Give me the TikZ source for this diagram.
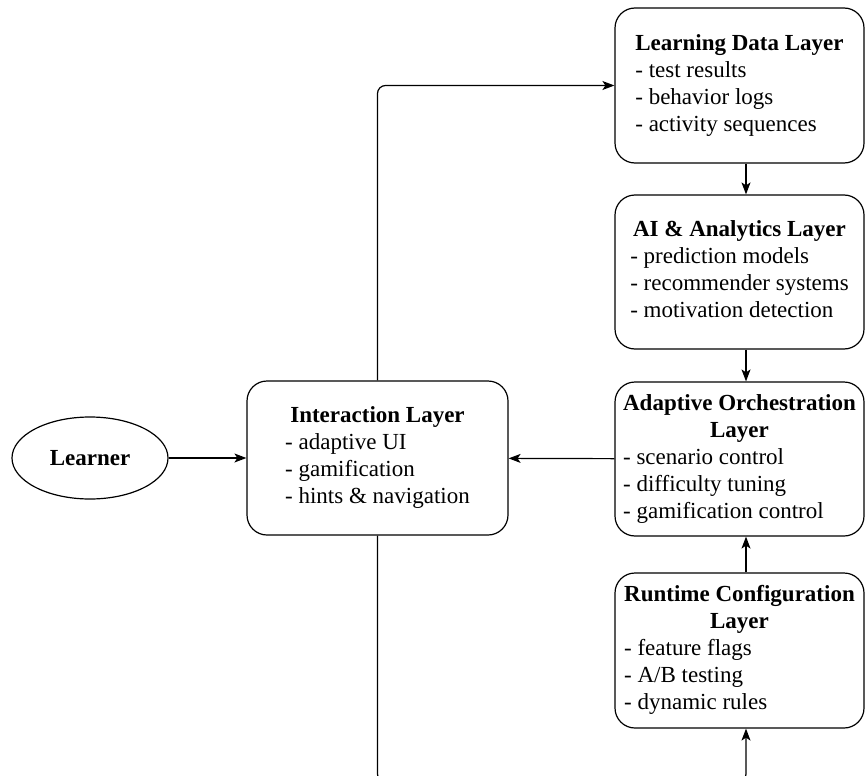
\documentclass[tikz,border=0pt]{standalone}
\usepackage{fontspec}
\setmainfont{Liberation Serif}
\usetikzlibrary{arrows.meta,shapes.geometric}

\tikzset{
  layer/.style={draw, line width=1.2pt, rounded corners=20pt, inner sep=0pt,
    minimum width=249pt, minimum height=155pt, font=\fontsize{23}{27}\selectfont},
  actor/.style={draw, line width=1.2pt, ellipse, inner sep=0pt,
    minimum width=156pt, minimum height=82pt, font=\fontsize{23}{27}\selectfont\bfseries},
  link/.style={line width=1.2pt, -{Stealth[length=12pt,width=9pt,inset=3pt]}},
}
% title centred over a left-aligned list
\newcommand{\layertext}[2]{\begin{tabular}{@{}l@{}}#1#2\end{tabular}}
\newcommand{\ttl}[1]{\multicolumn{1}{@{}c@{}}{\textbf{#1}}\\}

\begin{document}
\begin{tikzpicture}[x=1pt,y=-1pt]
  \useasboundingbox (0,0) rectangle (865,776);
  \clip (0,0) rectangle (865,776);

  \node[layer] (data) at (739.5,85.5)
    {\layertext{\ttl{Learning Data Layer}}{- test results\\- behavior logs\\- activity sequences}};
  \node[layer, minimum height=154pt] (ai) at (739.5,272)
    {\layertext{\ttl{AI \& Analytics Layer}}{- prediction models\\- recommender systems\\- motivation detection}};
  \node[layer, minimum height=154pt] (orch) at (739.5,459)
    {\layertext{\ttl{Adaptive Orchestration}\ttl{Layer}}{- scenario control\\- difficulty tuning\\- gamification control}};
  \node[layer] (rt) at (739.5,650.5)
    {\layertext{\ttl{Runtime Configuration}\ttl{Layer}}{- feature flags\\- A/B testing\\- dynamic rules}};
  \node[layer, minimum width=261pt, minimum height=154pt] (ui) at (377.5,458)
    {\layertext{\ttl{Interaction Layer}}{- adaptive UI\\- gamification\\- hints \& navigation}};
  \node[actor] (learner) at (90,458) {Learner};

  % ports of the right-hand column
  \coordinate (dataout) at ([xshift=6.5pt]data.south);
  \coordinate (aiin) at ([xshift=6.5pt]ai.north);
  \coordinate (aiout) at ([xshift=6.5pt]ai.south);
  \coordinate (orchin) at ([xshift=6.5pt]orch.north);
  \coordinate (orchbot) at ([xshift=6.5pt]orch.south);
  \coordinate (rttop) at ([xshift=6.5pt]rt.north);
  \coordinate (rtin) at ([xshift=6.5pt]rt.south);
  \coordinate (loop) at (0,782);

  \draw[link] (learner) -- (ui);
  \draw[link] (orch) -- (ui);
  \draw[link] (dataout) -- (aiin);
  \draw[link] (aiout) -- (orchin);
  \draw[link] (rttop) -- (orchbot);
  \draw[link, rounded corners=8pt] (ui.north) |- (data.west);
  \draw[link, rounded corners=8pt] (ui.south) -- (ui.south |- loop) -- (rtin |- loop) -- (rtin);
\end{tikzpicture}
\end{document}
